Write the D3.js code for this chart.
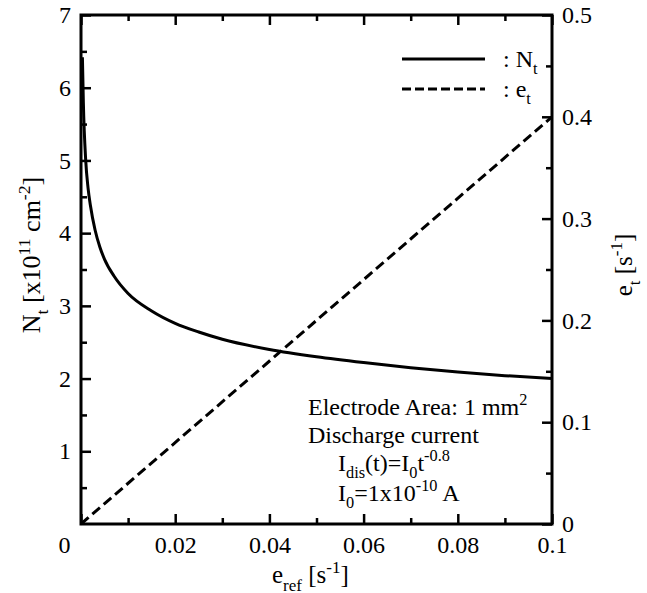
<!DOCTYPE html>
<html>
<head>
<meta charset="utf-8">
<script src="https://cdn.jsdelivr.net/npm/d3@7"></script>
<style>
  body { margin: 0; background: #fff; }
  svg text { font-family: 'Liberation Serif', 'Times New Roman', 'DejaVu Serif', serif !important; fill: #000; }
</style>
</head>
<body>
<div id="graph"></div>
<script>
// values

var eRef = [0.0003, 0.0005, 0.001, 0.0015, 0.002, 0.003, 0.004, 0.005, 0.007, 0.01,
  0.015, 0.02, 0.025, 0.03, 0.04, 0.05, 0.06, 0.07, 0.08, 0.09, 0.1];
var nT = [6.42, 5.8, 5.0, 4.62, 4.38, 4.04, 3.81, 3.64, 3.41, 3.17,
  2.93, 2.76, 2.64, 2.54, 2.4, 2.3, 2.22, 2.15, 2.09, 2.04, 2.0];

var eLineX = [0, 0.1];
var eLineY = [0, 0.4];

var xTicks = [0, 0.02, 0.04, 0.06, 0.08, 0.1];
var xMinor = [0.01, 0.03, 0.05, 0.07, 0.09];
var yLeftTicks = [1, 2, 3, 4, 5, 6, 7];
var yLeftMinor = [0.5, 1.5, 2.5, 3.5, 4.5, 5.5, 6.5];
var yRightTicks = [0, 0.1, 0.2, 0.3, 0.4, 0.5];
var yRightMinor = [0.05, 0.15, 0.25, 0.35, 0.45];

var w = 647, h = 593;
// plot box edges (window.top is taken, so pX names)
var pLeft = 81, pRight = 552, pTop = 15, pBottom = 524;

var svg = d3.select('#graph').append('svg')
  .attr('width', w)
  .attr('height', h);

var x = d3.scaleLinear().domain([0, 0.1]).range([pLeft, pRight]);
var yL = d3.scaleLinear().domain([0, 7]).range([pBottom, pTop]);
var yR = d3.scaleLinear().domain([0, 0.5]).range([pBottom, pTop]);

function styleAxis(g) {
  g.select('.domain').remove();
  g.attr('font-size', 24).attr('font-family', null);
  g.selectAll('line').attr('stroke', '#000').attr('stroke-width', 2.5);
}

// ticks point inward, so negative sizes
var xAxis = svg.append('g')
  .attr('transform', 'translate(0,' + pBottom + ')')
  .call(d3.axisBottom(x).tickValues(xTicks).tickSize(-10).tickPadding(12)
    .tickFormat(function(d) { return d === 0 ? '0' : d3.format('.2~f')(d); }))
  .call(styleAxis);
xAxis.selectAll('.tick').filter(function(d) { return d === 0; })
  .select('text').attr('x', -17);

svg.append('g')
  .attr('transform', 'translate(0,' + pBottom + ')')
  .call(d3.axisBottom(x).tickValues(xMinor).tickSize(-6).tickFormat(''))
  .call(styleAxis);

svg.append('g')
  .attr('transform', 'translate(0,' + pTop + ')')
  .call(d3.axisTop(x).tickValues(xTicks).tickSize(-10).tickFormat(''))
  .call(styleAxis);
svg.append('g')
  .attr('transform', 'translate(0,' + pTop + ')')
  .call(d3.axisTop(x).tickValues(xMinor).tickSize(-6).tickFormat(''))
  .call(styleAxis);

svg.append('g')
  .attr('transform', 'translate(' + pLeft + ',0)')
  .call(d3.axisLeft(yL).tickValues(yLeftTicks).tickSize(-10).tickPadding(10).tickFormat(d3.format('d')))
  .call(styleAxis);
svg.append('g')
  .attr('transform', 'translate(' + pLeft + ',0)')
  .call(d3.axisLeft(yL).tickValues(yLeftMinor).tickSize(-6).tickFormat(''))
  .call(styleAxis);

svg.append('g')
  .attr('transform', 'translate(' + pRight + ',0)')
  .call(d3.axisRight(yR).tickValues(yRightTicks).tickSize(-10).tickPadding(10)
    .tickFormat(function(d) { return d === 0 ? '0' : d3.format('.1f')(d); }))
  .call(styleAxis);
svg.append('g')
  .attr('transform', 'translate(' + pRight + ',0)')
  .call(d3.axisRight(yR).tickValues(yRightMinor).tickSize(-6).tickFormat(''))
  .call(styleAxis);

// frame
svg.append('rect')
  .attr('x', pLeft)
  .attr('y', pTop)
  .attr('width', pRight - pLeft)
  .attr('height', pBottom - pTop)
  .attr('fill', 'none')
  .attr('stroke', '#000')
  .attr('stroke-width', 3);

// curves
var ntLine = d3.line()
  .x(function(d, i) { return x(eRef[i]); })
  .y(function(d, i) { return yL(nT[i]); })
  .curve(d3.curveMonotoneX);

svg.append('path')
  .attr('d', ntLine(eRef))
  .attr('fill', 'none')
  .attr('stroke', '#000')
  .attr('stroke-width', 3);

var etLine = d3.line()
  .x(function(d, i) { return x(eLineX[i]); })
  .y(function(d, i) { return yR(eLineY[i]); });

svg.append('path')
  .attr('d', etLine(eLineX))
  .attr('fill', 'none')
  .attr('stroke', '#000')
  .attr('stroke-width', 3)
  .attr('stroke-dasharray', '10,5');

// legend
var legend = svg.append('g');
legend.append('line')
  .attr('x1', 402).attr('x2', 485).attr('y1', 59).attr('y2', 59)
  .attr('stroke', '#000').attr('stroke-width', 3);
legend.append('line')
  .attr('x1', 402).attr('x2', 485).attr('y1', 89).attr('y2', 89)
  .attr('stroke', '#000').attr('stroke-width', 3).attr('stroke-dasharray', '9,4');

function subText(g, xPos, yPos, size, parts) {
  var t = g.append('text').attr('x', xPos).attr('y', yPos).attr('font-size', size);
  var shift = 0;
  parts.forEach(function(p) {
    var target = p.sub ? size * 0.3 : p.sup ? -size * 0.4 : 0;
    t.append('tspan')
      .attr('dy', target - shift)
      .attr('font-size', p.sub || p.sup ? size * 0.68 : size)
      .text(p.t);
    shift = target;
  });
  return t;
}

subText(legend, 503, 67, 24, [{ t: ': N' }, { t: 't', sub: true }]);
subText(legend, 503, 97, 24, [{ t: ': e' }, { t: 't', sub: true }]);

// note
var note = svg.append('g');
subText(note, 308, 415, 24, [{ t: 'Electrode Area: 1 mm' }, { t: '2', sup: true }]);
subText(note, 308, 443, 24, [{ t: 'Discharge current' }]);
subText(note, 338, 471, 24, [{ t: 'I' }, { t: 'dis', sub: true }, { t: '(t)=I' }, { t: '0', sub: true },
  { t: 't' }, { t: '-0.8', sup: true }]);
subText(note, 338, 501, 24, [{ t: 'I' }, { t: '0', sub: true }, { t: '=1x10' }, { t: '-10', sup: true },
  { t: ' A' }]);

// axis titles
subText(svg, 272, 583, 25, [{ t: 'e' }, { t: 'ref', sub: true }, { t: '  [s' }, { t: '-1', sup: true }, { t: ']' }]);

var yt = subText(svg.append('g').attr('transform', 'translate(40,255) rotate(-90)'), 0, 0, 26,
  [{ t: 'N' }, { t: 't', sub: true }, { t: '  [x10' }, { t: '11', sup: true }, { t: ' cm' }, { t: '-2', sup: true }, { t: ']' }]);
yt.attr('text-anchor', 'middle');

var yt2 = subText(svg.append('g').attr('transform', 'translate(632,265) rotate(-90)'), 0, 0, 25,
  [{ t: 'e' }, { t: 't', sub: true }, { t: '  [s' }, { t: '-1', sup: true }, { t: ']' }]);
yt2.attr('text-anchor', 'middle');
</script>
</body>
</html>
